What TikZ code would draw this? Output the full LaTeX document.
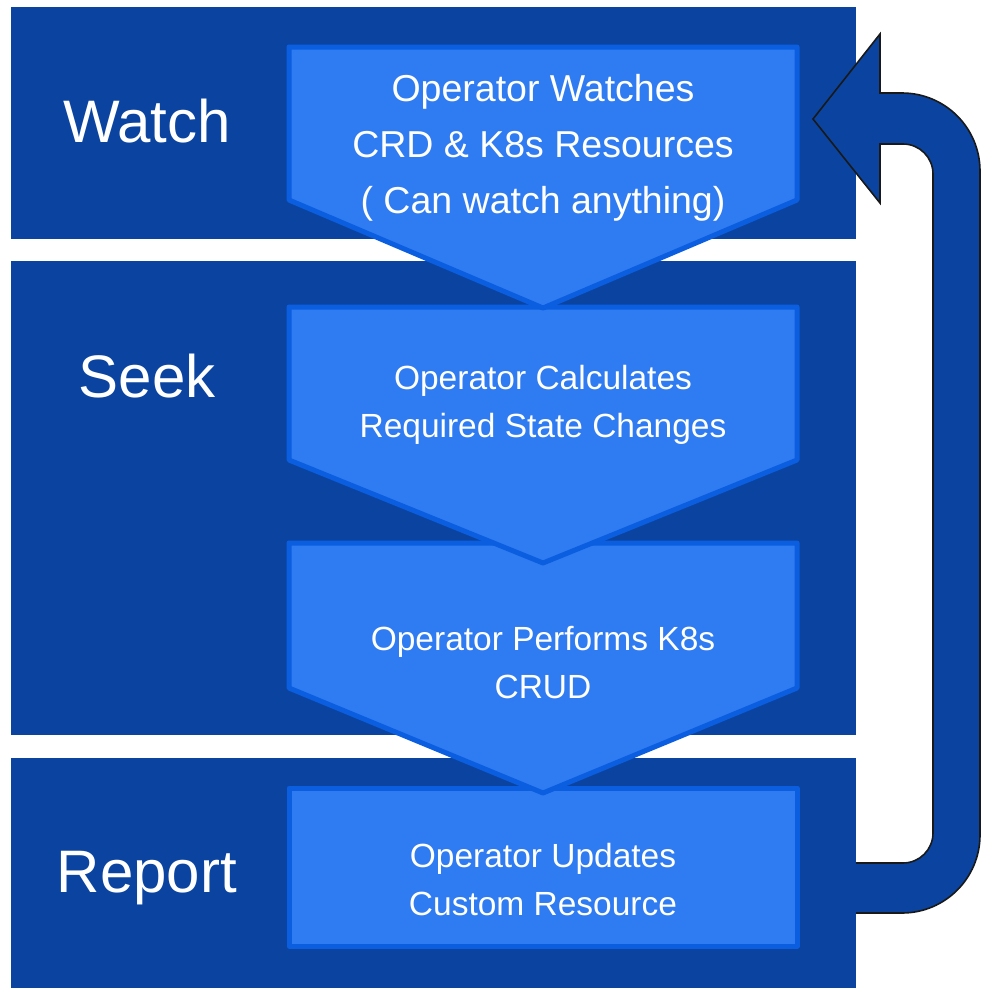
\documentclass[tikz,border=0pt]{standalone}
\usepackage{fontspec}
\setmainfont{Liberation Sans}
\definecolor{bandblue}{RGB}{10,68,160}
\definecolor{chevfill}{RGB}{47,123,242}
\definecolor{chevline}{RGB}{11,94,223}
\begin{document}
\begin{tikzpicture}[x=1pt,y=-1pt,
  band/.style={fill=bandblue,draw=none},
  chev/.style={fill=chevfill,draw=chevline,line width=5pt,line join=round},
  biglabel/.style={text=white,font=\fontsize{60}{62}\selectfont,anchor=center},
  chevtext/.style={text=white,align=center,anchor=center},
  loop/.style={draw=black!90,line width=1.6pt,line join=miter}]
\useasboundingbox (0,0) rectangle (982,988);
\fill[white] (0,0) rectangle (982,988);
% bands
\path[band] (11,7) rectangle (856,239);
\path[band] (11,261) rectangle (856,735);
\path[band] (11,758) rectangle (856,988);
% labels
\node[biglabel] (w) at (147,121) {Watch};
\node[biglabel] (s) at (147,376) {Seek};
\node[biglabel] (r) at (147,878) {Report};
% steps (later ones first so earlier tips lie on top)
\path[chev] (289,788) -- (797,788) -- (797,946) -- (289,946) -- cycle;
\path[chev] (289,543) -- (797,543) -- (797,688) -- (543,793) -- (289,688) -- cycle;
\path[chev] (289,307) -- (797,307) -- (797,460) -- (543,563) -- (289,460) -- cycle;
\path[chev] (289,47) -- (797,47) -- (797,200) -- (543,308) -- (289,200) -- cycle;
\node[chevtext,font=\fontsize{37.5}{56}\selectfont] (t1) at (543,148) {Operator Watches\\CRD \& K8s Resources\\( Can watch anything)};
\node[chevtext,font=\fontsize{33.5}{48}\selectfont] (t2) at (543,405) {Operator Calculates\\Required State Changes};
\node[chevtext,font=\fontsize{33.5}{48}\selectfont] (t3) at (543,663) {Operator Performs K8s\\CRUD};
\node[chevtext,font=\fontsize{33.5}{48}\selectfont] (t4) at (543,880) {Operator Updates\\Custom Resource};
% loop-back arrow
\fill[bandblue] (856,863) -- (903,863) .. controls (919.6,863) and (933,849.6) .. (933,833)
  -- (933,174) .. controls (933,157.4) and (919.6,144) .. (903,144)
  -- (880,144) -- (880,203) -- (813,119) -- (880,34) -- (880,93) -- (902,93)
  .. controls (945.1,93) and (980,127.9) .. (980,171)
  -- (980,835) .. controls (980,878.1) and (945.1,913) .. (902,913) -- (856,913) -- cycle;
\draw[loop] (856,863) -- (903,863) .. controls (919.6,863) and (933,849.6) .. (933,833)
  -- (933,174) .. controls (933,157.4) and (919.6,144) .. (903,144)
  -- (880,144) -- (880,203) -- (813,119) -- (880,34) -- (880,93) -- (902,93)
  .. controls (945.1,93) and (980,127.9) .. (980,171)
  -- (980,835) .. controls (980,878.1) and (945.1,913) .. (902,913) -- (856,913);
\end{tikzpicture}
\end{document}
